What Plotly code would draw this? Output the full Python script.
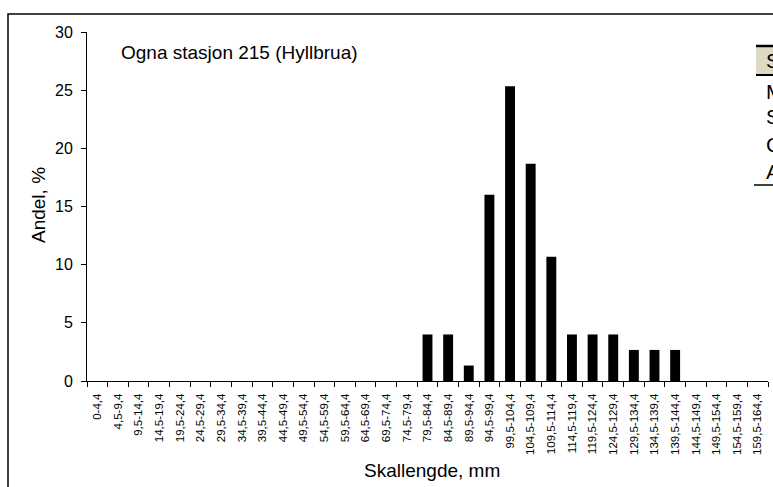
import plotly.graph_objects as go

categories = ["0-4,4", "4,5-9,4", "9,5-14,4", "14,5-19,4", "19,5-24,4", "24,5-29,4",
              "29,5-34,4", "34,5-39,4", "39,5-44,4", "44,5-49,4", "49,5-54,4", "54,5-59,4",
              "59,5-64,4", "64,5-69,4", "69,5-74,4", "74,5-79,4", "79,5-84,4", "84,5-89,4",
              "89,5-94,4", "94,5-99,4", "99,5-104,4", "104,5-109,4", "109,5-114,4",
              "114,5-119,4", "119,5-124,4", "124,5-129,4", "129,5-134,4", "134,5-139,4",
              "139,5-144,4", "144,5-149,4", "149,5-154,4", "154,5-159,4", "159,5-164,4"]
andel = [0, 0, 0, 0, 0, 0, 0, 0, 0, 0, 0, 0, 0, 0, 0, 0,
         4.0, 4.0, 1.33, 16.0, 25.33, 18.67, 10.67, 4.0, 4.0, 4.0, 2.67, 2.67, 2.67,
         0, 0, 0, 0]
table_rows = ["S", "M", "S", "C", "A"]

W, H = 773, 487
L, R, T, B = 87, 768, 32, 381

def px(x):
    return (x - L) / (R - L)

def py(y):
    return (B - y) / (B - T)

FONT = "Liberation Sans, Arial, sans-serif"

fig = go.Figure(go.Bar(x=categories, y=andel, marker=dict(color="black", line=dict(width=0)),
                       width=0.48))

shapes = [
    # outer chart border (extends past right/bottom edges)
    dict(type="rect", xref="paper", yref="paper", x0=px(8), x1=px(800), y0=py(520), y1=py(14),
         line=dict(color="black", width=1.5), fillcolor="rgba(0,0,0,0)", layer="above"),
    # table header background
    dict(type="rect", xref="paper", yref="paper", x0=px(756), x1=px(790), y0=py(74), y1=py(46),
         line=dict(width=0), fillcolor="#ddd9c3", layer="below"),
    dict(type="line", xref="paper", yref="paper", x0=px(756), x1=px(790), y0=py(46), y1=py(46),
         line=dict(color="black", width=2.5)),
    dict(type="line", xref="paper", yref="paper", x0=px(756), x1=px(790), y0=py(75), y1=py(75),
         line=dict(color="black", width=2)),
    dict(type="line", xref="paper", yref="paper", x0=px(754), x1=px(790), y0=py(185), y1=py(185),
         line=dict(color="black", width=1.5)),
]

annotations = [
    dict(text="Ogna stasjon 215 (Hyllbrua)", xref="paper", yref="paper", x=px(119), y=py(52),
         xanchor="left", yanchor="middle", showarrow=False,
         font=dict(size=19, color="black", family=FONT)),
    dict(text="Skallengde, mm", xref="paper", yref="paper", x=px(432), y=py(470),
         xanchor="center", yanchor="middle", showarrow=False,
         font=dict(size=19, color="black", family=FONT)),
    dict(text="Andel, %", xref="paper", yref="paper", x=px(38), y=py(205), textangle=-90,
         xanchor="center", yanchor="middle", showarrow=False,
         font=dict(size=19, color="black", family=FONT)),
]
row_y = [61, 91, 117, 144, 171]
for t, yy in zip(table_rows, row_y):
    annotations.append(dict(text=t, xref="paper", yref="paper", x=px(764), y=py(yy),
                            xanchor="left", yanchor="middle", showarrow=False,
                            font=dict(size=21, color="black", family=FONT)))

fig.update_layout(
    width=W, height=H,
    margin=dict(l=L, r=W - R, t=T, b=H - B, pad=0, autoexpand=False),
    paper_bgcolor="white", plot_bgcolor="white",
    showlegend=False, bargap=0.5,
    font=dict(family=FONT, color="black"),
    shapes=shapes, annotations=annotations,
    xaxis=dict(type="category", tickson="boundaries", ticks="outside", ticklen=5,
               tickcolor="black", showline=True, linecolor="black", linewidth=1,
               showgrid=False, tickangle=-90, tickfont=dict(size=11.5, family=FONT),
               ticklabelstandoff=7,
               automargin=False, range=[-0.5, len(categories) - 0.5]),
    yaxis=dict(range=[0, 30], dtick=5, ticks="outside", ticklen=5, tickcolor="black",
               showline=True, linecolor="black", linewidth=1, showgrid=False, zeroline=False,
               tickfont=dict(size=16, family=FONT), ticklabelstandoff=5, automargin=False),
)

fig.write_html("out.html", config={"displayModeBar": False, "staticPlot": True},
               post_script="document.body.style.margin='0';document.body.style.overflow='hidden';")
